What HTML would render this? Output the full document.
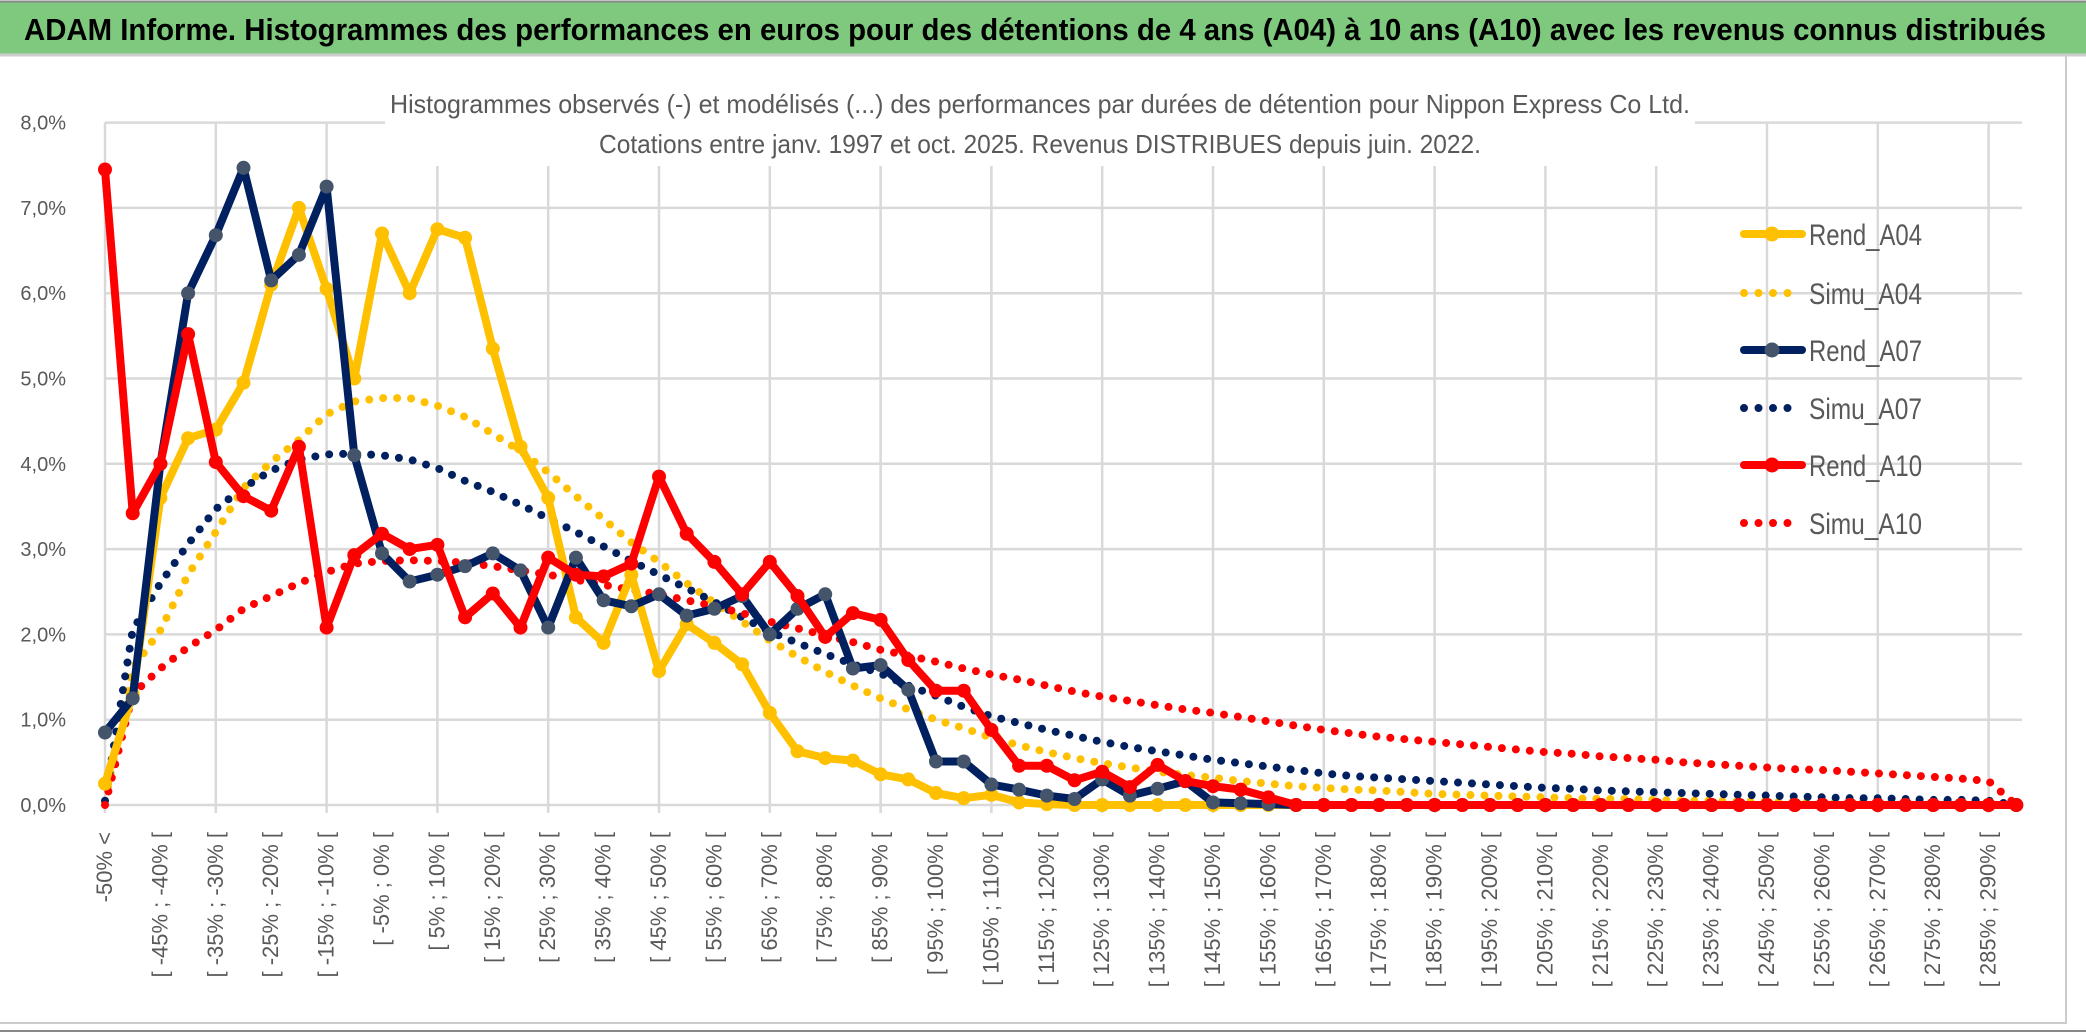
<!DOCTYPE html>
<html><head><meta charset="utf-8"><style>
html,body{margin:0;padding:0;background:#fff}
svg{display:block}
text{font-family:"Liberation Sans Narrow","Liberation Sans",sans-serif}
</style></head><body>
<svg id="chart" width="2086" height="1033" viewBox="0 0 2086 1033" xmlns="http://www.w3.org/2000/svg">
<rect x="0" y="0" width="2086" height="1033" fill="#fff"/>
<rect x="0" y="2" width="2086" height="52" fill="#7fc97f"/>
<line x1="0" y1="1.5" x2="2086" y2="1.5" stroke="#888" stroke-width="2"/>
<line x1="0" y1="55" x2="2086" y2="55" stroke="#ccc" stroke-width="3"/>
<text x="24" y="40" font-size="31" font-weight="bold" fill="#000" textLength="2022" lengthAdjust="spacingAndGlyphs">ADAM Informe. Histogrammes des performances en euros pour des détentions de 4 ans (A04) à 10 ans (A10) avec les revenus connus distribués</text>
<line x1="2066" y1="56" x2="2066" y2="1024" stroke="#ccc" stroke-width="2"/>
<line x1="0" y1="1023" x2="2066" y2="1023" stroke="#ccc" stroke-width="2"/>
<line x1="0" y1="1031" x2="2086" y2="1031" stroke="#888" stroke-width="2"/>
<g id="grid"></g>
<rect x="385" y="84" width="1310" height="82" fill="#fff"/>
<text x="1040" y="113" font-size="26" fill="#595959" text-anchor="middle" textLength="1300" lengthAdjust="spacingAndGlyphs">Histogrammes observés (-) et modélisés (...) des performances par durées de détention pour Nippon Express Co Ltd.</text>
<text x="1040" y="153" font-size="26" fill="#595959" text-anchor="middle" textLength="882" lengthAdjust="spacingAndGlyphs">Cotations entre janv. 1997 et oct. 2025. Revenus DISTRIBUES depuis juin. 2022.</text>
<g id="yaxis"></g>
<g id="xaxis"></g>
<g id="series"></g>
<g id="legend"></g>
</svg>
<script>
var yTicks = [0,1,2,3,4,5,6,7,8];
var yTickLabels = ["0,0%","1,0%","2,0%","3,0%","4,0%","5,0%","6,0%","7,0%","8,0%"];
var categories = [];
categories.push("-50% <");
for (var c = 1; c < 70; c++) { var a = -50 + 5*(c-1); categories.push("[ " + a + "% ; " + (a+5) + "% ["); }
var rendA04 = [0.25,1.3,3.6,4.3,4.4,4.95,6.1,7.0,6.05,5.0,6.7,6.0,6.75,6.65,5.35,4.2,3.6,2.2,1.9,2.7,1.57,2.12,1.9,1.65,1.08,0.63,0.55,0.52,0.36,0.3,0.14,0.08,0.12,0.03,0.01,0,0,0,0,0,0,0,0,0,0,0,0,0,0,0,0,0,0,0,0,0,0,0,0,0,0,0,0,0,0,0,0,0,0,0];
var simuA04 = [0.05,1.6,2.05,2.7,3.2,3.72,4.02,4.28,4.58,4.73,4.77,4.77,4.68,4.55,4.35,4.15,3.9,3.62,3.35,3.08,2.85,2.6,2.37,2.15,1.93,1.74,1.56,1.4,1.25,1.12,1.0,0.9,0.79,0.7,0.62,0.55,0.49,0.44,0.39,0.35,0.32,0.28,0.25,0.22,0.2,0.18,0.17,0.15,0.13,0.12,0.11,0.1,0.09,0.08,0.07,0.07,0.06,0.05,0.05,0.04,0.04,0.03,0.03,0.03,0.02,0.02,0.02,0.02,0.01,0];
var rendA07 = [0.85,1.25,4.0,6.0,6.68,7.47,6.15,6.45,7.25,4.1,2.95,2.62,2.7,2.8,2.95,2.75,2.08,2.9,2.4,2.33,2.47,2.22,2.3,2.45,2.0,2.3,2.47,1.6,1.64,1.35,0.51,0.51,0.24,0.18,0.11,0.07,0.3,0.11,0.19,0.28,0.03,0.02,0.01,0,0,0,0,0,0,0,0,0,0,0,0,0,0,0,0,0,0,0,0,0,0,0,0,0,0,0];
var simuA07 = [0.05,2.05,2.6,3.06,3.47,3.72,3.92,4.05,4.11,4.12,4.1,4.05,3.95,3.8,3.67,3.52,3.36,3.2,3.03,2.86,2.7,2.54,2.38,2.2,2.03,1.9,1.77,1.65,1.54,1.4,1.28,1.15,1.04,0.96,0.88,0.81,0.74,0.68,0.63,0.58,0.53,0.49,0.45,0.41,0.37,0.34,0.32,0.3,0.28,0.26,0.24,0.22,0.2,0.19,0.17,0.16,0.15,0.14,0.13,0.12,0.11,0.1,0.09,0.08,0.08,0.07,0.06,0.06,0.05,0];
var rendA10 = [7.45,3.42,4.0,5.52,4.02,3.62,3.45,4.2,2.08,2.93,3.18,3.0,3.05,2.2,2.48,2.08,2.9,2.7,2.68,2.83,3.85,3.18,2.85,2.47,2.85,2.45,1.97,2.25,2.17,1.7,1.34,1.34,0.88,0.46,0.46,0.29,0.39,0.21,0.47,0.28,0.22,0.18,0.09,0,0,0,0,0,0,0,0,0,0,0,0,0,0,0,0,0,0,0,0,0,0,0,0,0,0,0];
var simuA10 = [0,1.3,1.6,1.85,2.05,2.3,2.45,2.6,2.73,2.83,2.86,2.87,2.86,2.84,2.8,2.75,2.7,2.64,2.58,2.52,2.47,2.4,2.33,2.25,2.15,2.07,1.99,1.91,1.82,1.75,1.68,1.6,1.53,1.47,1.4,1.33,1.27,1.22,1.17,1.12,1.08,1.03,0.98,0.93,0.88,0.84,0.8,0.77,0.74,0.71,0.68,0.65,0.62,0.6,0.57,0.55,0.53,0.5,0.48,0.46,0.44,0.42,0.41,0.39,0.37,0.35,0.33,0.31,0.28,0];

var NS = "http://www.w3.org/2000/svg";
var X0 = 105, DX = 27.7, Y0 = 805, DY = 85.3;
function xs(i){ return X0 + i*DX; }
function ys(v){ return Y0 - v*DY; }
function mk(tag, attrs, parent){ var e = document.createElementNS(NS, tag); for (var k in attrs) e.setAttribute(k, attrs[k]); parent.appendChild(e); return e; }

var grid = document.getElementById("grid");
for (var t = 0; t < yTicks.length; t++) {
  var gl = mk("line", {x1: X0, x2: 2022, y1: ys(yTicks[t]), y2: ys(yTicks[t]), stroke: "#d9d9d9", "stroke-width": 2.5}, grid);
  
  
}
for (var g = 0; g < categories.length; g += 4) {
  var vl = mk("line", {x1: xs(g), x2: xs(g), y1: ys(8), y2: Y0 + 8, stroke: "#d9d9d9", "stroke-width": 2.5}, grid);
  
  
}
var yaxis = document.getElementById("yaxis");
for (var t2 = 0; t2 < yTicks.length; t2++) {
  var yl = mk("text", {x: 66, y: ys(yTicks[t2]) + 7, "font-size": 20, fill: "#595959", "text-anchor": "end"}, yaxis);
  yl.textContent = yTickLabels[t2];
  
  
}
var xaxis = document.getElementById("xaxis");
for (var c2 = 0; c2 < categories.length; c2 += 2) {
  var xl = mk("text", {x: 0, y: 0, "font-size": 22, fill: "#595959", "text-anchor": "end", transform: "translate(" + (xs(c2) + 7) + ",832) rotate(-90)"}, xaxis);
  xl.textContent = categories[c2];
  
  
}

var series = document.getElementById("series");
function pts(arr){ var s = []; for (var i = 0; i < arr.length; i++) s.push(xs(i).toFixed(1) + "," + ys(arr[i]).toFixed(1)); return s.join(" "); }
function dotted(arr, color, name){
  var p = mk("polyline", {points: pts(arr), fill: "none", stroke: color, "stroke-width": 8, "stroke-linecap": "round", "stroke-dasharray": "0 14"}, series);
  
  
}
function solid(arr, color, mcolor, name){
  var p = mk("polyline", {points: pts(arr), fill: "none", stroke: color, "stroke-width": 8, "stroke-linejoin": "round"}, series);
  
  
  for (var i = 0; i < arr.length; i++) {
    var m = mk("circle", {cx: xs(i), cy: ys(arr[i]), r: 7, fill: mcolor}, series);
    
    
  }
}
dotted(simuA04, "#ffc000", "simu-a04-line");
dotted(simuA07, "#002060", "simu-a07-line");
dotted(simuA10, "#ff0000", "simu-a10-line");
solid(rendA04, "#ffc000", "#ffc000", "rend-a04-line");
solid(rendA07, "#002060", "#44546a", "rend-a07-line");
solid(rendA10, "#ff0000", "#ff0000", "rend-a10-line");

var legend = document.getElementById("legend");
var legNames = ["Rend_A04","Simu_A04","Rend_A07","Simu_A07","Rend_A10","Simu_A10"];
var legColors = ["#ffc000","#ffc000","#002060","#002060","#ff0000","#ff0000"];
var legMarker = ["#ffc000","","#44546a","","#ff0000",""];
var legY = [234,293,350,408,465,523];
for (var L = 0; L < legNames.length; L++) {
  var y = legY[L];
  if (legMarker[L]) {
    var ll = mk("line", {x1: 1744, x2: 1802, y1: y, y2: y, stroke: legColors[L], "stroke-width": 8, "stroke-linecap": "round"}, legend);
    
    
    var lc = mk("circle", {cx: 1772, cy: y, r: 7.5, fill: legMarker[L]}, legend);
    
    
  } else {
    var ld = mk("line", {x1: 1744, x2: 1802, y1: y, y2: y, stroke: legColors[L], "stroke-width": 8, "stroke-linecap": "round", "stroke-dasharray": "0 14.5"}, legend);
    
    
  }
  var lt = mk("text", {x: 1809, y: y + 11, "font-size": 30, fill: "#595959", textLength: 113, lengthAdjust: "spacingAndGlyphs"}, legend);
  lt.textContent = legNames[L];
  
  
}
</script>
</body></html>
